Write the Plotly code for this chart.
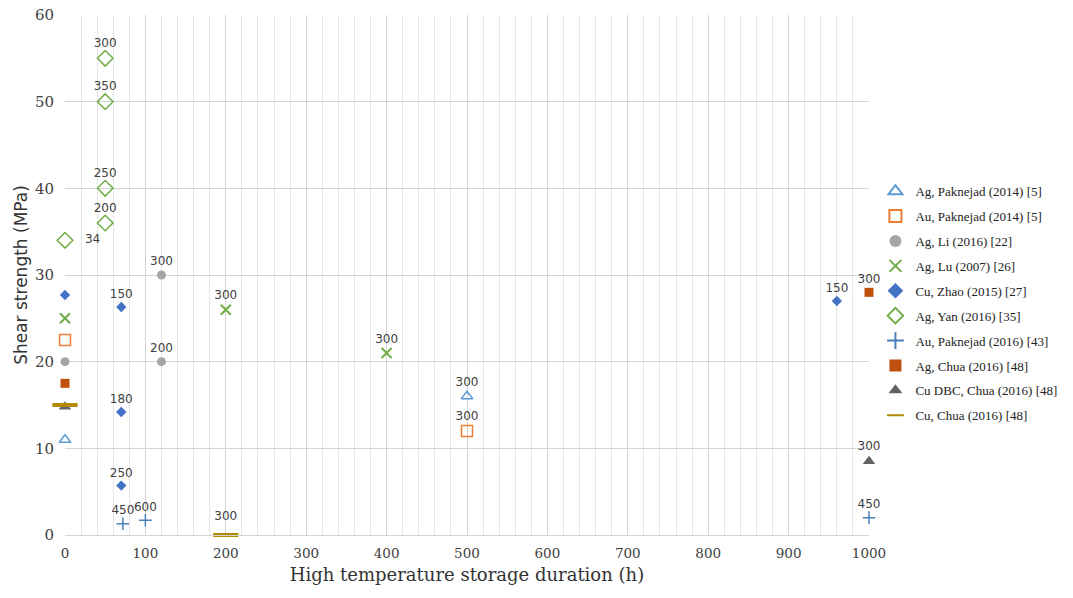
import plotly.graph_objects as go

# Data: (duration h, shear strength MPa, temperature label)
ag_pak14_x = [0, 500]; ag_pak14_y = [11, 16]; ag_pak14_t = ["", "300"]
au_pak14_x = [0, 500]; au_pak14_y = [22.5, 12]; au_pak14_t = ["", "300"]
ag_li_x = [0, 120, 120]; ag_li_y = [20, 30, 20]; ag_li_t = ["", "300", "200"]
ag_lu_x = [0, 200, 400]; ag_lu_y = [25, 26, 21]; ag_lu_t = ["", "300", "300"]
cu_zhao_x = [0, 70, 70, 70, 960]; cu_zhao_y = [27.7, 26.3, 14.2, 5.7, 27]
cu_zhao_t = ["", "150", "180", "250", "150"]
ag_yan_x = [0, 50, 50, 50, 50]; ag_yan_y = [34, 55, 50, 40, 36]
ag_yan_t = ["34", "300", "350", "250", "200"]
au_pak16_x = [72, 100, 1000]; au_pak16_y = [1.3, 1.7, 2.0]; au_pak16_t = ["450", "600", "450"]
ag_chua_x = [0, 1000]; ag_chua_y = [17.5, 28]; ag_chua_t = ["", "300"]
cudbc_chua_x = [0, 1000]; cudbc_chua_y = [14.8, 8.5]; cudbc_chua_t = ["", "300"]
cu_chua_x = [0, 200]; cu_chua_y = [15, 0]; cu_chua_t = ["", "300"]

series = [
    ("Ag, Paknejad (2014) [5]", ag_pak14_x, ag_pak14_y, ag_pak14_t,
     dict(symbol="triangle-up-open", size=10, color="#5B9BD5", line=dict(width=1.5))),
    ("Au, Paknejad (2014) [5]", au_pak14_x, au_pak14_y, au_pak14_t,
     dict(symbol="square-open", size=11, color="#ED7D31", line=dict(width=1.5))),
    ("Ag, Li (2016) [22]", ag_li_x, ag_li_y, ag_li_t,
     dict(symbol="circle", size=9, color="#A5A5A5")),
    ("Ag, Lu (2007) [26]", ag_lu_x, ag_lu_y, ag_lu_t,
     dict(symbol="x-thin-open", size=10, color="#70AD47", line=dict(width=2, color="#70AD47"))),
    ("Cu, Zhao (2015) [27]", cu_zhao_x, cu_zhao_y, cu_zhao_t,
     dict(symbol="diamond", size=8, color="#4472C4")),
    ("Ag, Yan (2016) [35]", ag_yan_x, ag_yan_y, ag_yan_t,
     dict(symbol="diamond-open", size=12, color="#70AD47", line=dict(width=1.5))),
    ("Au, Paknejad (2016) [43]", au_pak16_x, au_pak16_y, au_pak16_t,
     dict(symbol="cross-thin-open", size=9, color="#4A7EBB", line=dict(width=1.5, color="#4A7EBB"))),
    ("Ag, Chua (2016) [48]", ag_chua_x, ag_chua_y, ag_chua_t,
     dict(symbol="square", size=9, color="#C0500E")),
    ("Cu DBC, Chua (2016) [48]", cudbc_chua_x, cudbc_chua_y, cudbc_chua_t,
     dict(symbol="triangle-up", size=11, color="#636363")),
    ("Cu, Chua (2016) [48]", cu_chua_x, cu_chua_y, cu_chua_t,
     dict(symbol="line-ew-open", size=18, color="#B08A00", line=dict(width=4, color="#B08A00"))),
]

fig = go.Figure()
for i, (name, xs, ys, ts, mk) in enumerate(series):
    pos = ["middle right" if t == "34" else "top center" for t in ts]
    fig.add_trace(go.Scatter(
        x=xs, y=ys, mode="markers+text", name=name, legendgroup=f"g{i}",
        text=[("   " + t) if t == "34" else t for t in ts],
        textposition=pos, marker=mk, cliponaxis=False,
        textfont=dict(family="DejaVu Sans", size=12, color="#404040"),
    ))

fig.update_layout(
    width=1073, height=598,
    margin=dict(l=65, r=204, t=15, b=63, autoexpand=False),
    paper_bgcolor="white", plot_bgcolor="white",
    font=dict(family="Liberation Serif", color="#404040"),
    xaxis=dict(range=[0, 1000], tickvals=list(range(0, 1001, 100)),
               showgrid=True, gridcolor="#D4D4D4", gridwidth=1,
               minor=dict(dtick=20, showgrid=True, gridcolor="#E6E6E6", gridwidth=1),
               zeroline=False, showline=True, linecolor="#D4D4D4",
               ticks="", ticklabelstandoff=6,
               tickfont=dict(size=13.5, family="DejaVu Serif", color="#404040"),
               title=dict(text="High temperature storage duration (h)",
                          font=dict(size=18, family="DejaVu Serif", color="#333"), standoff=8)),
    yaxis=dict(range=[0, 60], tickvals=list(range(0, 61, 10)),
               showgrid=True, gridcolor="#D4D4D4", gridwidth=1,
               zeroline=False, showline=False, ticks="", ticklabelstandoff=10,
               tickfont=dict(size=15, family="DejaVu Serif", color="#404040"),
               title=dict(text="Shear strength (MPa)", font=dict(size=17, family="DejaVu Sans", color="#333"), standoff=2)),
    legend=dict(x=1.008, y=0.69, xanchor="left", yanchor="top",
                bgcolor="rgba(0,0,0,0)",
                font=dict(size=13, family="Liberation Serif", color="#222"),
                itemsizing="constant", tracegroupgap=5, itemwidth=30),
    showlegend=True,
)

fig.write_html("out.html")
